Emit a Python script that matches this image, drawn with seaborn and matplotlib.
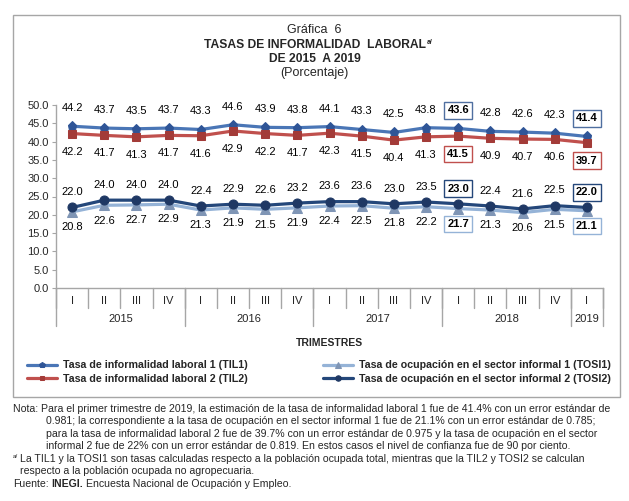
import numpy as np
import pandas as pd
import matplotlib
matplotlib.use('Agg')
import matplotlib.pyplot as plt
from matplotlib.patches import Rectangle
import seaborn as sns

# ─────────────────────────────────────────────
# DATA
# ─────────────────────────────────────────────
quarters = ['I', 'II', 'III', 'IV', 'I', 'II', 'III', 'IV', 'I', 'II', 'III', 'IV',
            'I', 'II', 'III', 'IV', 'I']
years = ['2015', '2016', '2017', '2018', '2019']
year_sizes = [4, 4, 4, 4, 1]

til1 = [44.2, 43.7, 43.5, 43.7, 43.3, 44.6, 43.9, 43.8, 44.1, 43.3, 42.5, 43.8,
        43.6, 42.8, 42.6, 42.3, 41.4]
til2 = [42.2, 41.7, 41.3, 41.7, 41.6, 42.9, 42.2, 41.7, 42.3, 41.5, 40.4, 41.3,
        41.5, 40.9, 40.7, 40.6, 39.7]
tosi1 = [20.8, 22.6, 22.7, 22.9, 21.3, 21.9, 21.5, 21.9, 22.4, 22.5, 21.8, 22.2,
         21.7, 21.3, 20.6, 21.5, 21.1]
tosi2 = [22.0, 24.0, 24.0, 24.0, 22.4, 22.9, 22.6, 23.2, 23.6, 23.6, 23.0, 23.5,
         23.0, 22.4, 21.6, 22.5, 22.0]

labels = ['Tasa de informalidad laboral 1 (TIL1)',
          'Tasa de informalidad laboral 2 (TIL2)',
          'Tasa de ocupación en el sector informal 1 (TOSI1)',
          'Tasa de ocupación en el sector informal 2 (TOSI2)']
boxed = [12, 16]   # 2018-I and 2019-I are highlighted

# ─────────────────────────────────────────────
# STYLE
# ─────────────────────────────────────────────
sns.set_style('white')
plt.rcParams['font.family'] = ['Liberation Sans', 'DejaVu Sans']
NARROW = ['Liberation Sans Narrow', 'Liberation Sans', 'DejaVu Sans']

# (values, line color, marker, marker color, label side, offset, box edge)
series = [
    (til1, '#4A76B6', 'p', '#2F5597', 1, 13, '#4F6FA0'),
    (til2, '#C0504D', 's', '#A33B38', -1, 13, '#C0504D'),
    (tosi1, '#95B3D7', '^', '#7F95B5', -1, 11, '#95B3D7'),
    (tosi2, '#24477A', 'o', '#1F3864', 1, 11, '#24477A'),
]

fig = plt.figure(figsize=(6.29, 5.01), dpi=100)
fig.patch.set_facecolor('white')
ax = fig.add_axes([56 / 629, 1 - 288 / 501, (603 - 56) / 629, 183 / 501])

x = np.arange(len(quarters))
for (vals, lc, mk, mc, side, off, ec), lab in zip(series, labels):
    df = pd.DataFrame({'x': x, 'y': vals})
    sns.lineplot(data=df, x='x', y='y', ax=ax, color=lc, lw=2.3, marker=mk,
                 markersize=6.5 if mk != 's' else 6, markerfacecolor=mc,
                 markeredgecolor=mc, label=lab, legend=False, zorder=3)
    for i, v in enumerate(vals):
        if i in boxed:
            ax.annotate(f'{v:.1f}', (i, v), xytext=(0, side * off),
                        textcoords='offset points', ha='center', va='center',
                        fontsize=8, fontweight='bold', color='black',
                        bbox=dict(boxstyle='square,pad=0.3', fc='white',
                                  ec=ec, lw=1))
        else:
            ax.annotate(f'{v:.1f}', (i, v), xytext=(0, side * off),
                        textcoords='offset points', ha='center', va='center',
                        fontsize=8, color='black')

ax.set_xlim(-0.5, len(quarters) - 0.5)
ax.set_ylim(0, 50)
ax.set_yticks(np.arange(0, 50.1, 5))
ax.set_yticklabels([f'{t:.1f}' for t in np.arange(0, 50.1, 5)], fontsize=8)
ax.set_xticks([])
ax.set_xlabel('')
ax.set_ylabel('')
ax.tick_params(axis='y', length=3, color='#A6A6A6', pad=2, left=True)
for s in ['top', 'right']:
    ax.spines[s].set_visible(False)
for s in ['left', 'bottom']:
    ax.spines[s].set_color('#A6A6A6')
    ax.spines[s].set_linewidth(1)

# two-level category axis
tr = ax.get_xaxis_transform()
for k in range(len(quarters) + 1):
    ax.plot([k - 0.5, k - 0.5], [0, -0.11], transform=tr, color='#A6A6A6',
            lw=1, clip_on=False)
for i, q in enumerate(quarters):
    ax.text(i, -0.072, q, transform=tr, ha='center', va='center', fontsize=8)
start = 0
for yr, n in zip(years, year_sizes):
    ax.plot([start - 0.5, start - 0.5], [0, -0.21], transform=tr,
            color='#A6A6A6', lw=1, clip_on=False)
    ax.text(start + (n - 1) / 2, -0.172, yr, transform=tr, ha='center',
            va='center', fontsize=8)
    start += n
ax.plot([start - 0.5, start - 0.5], [0, -0.21], transform=tr,
        color='#A6A6A6', lw=1, clip_on=False)
ax.text(0.5, -0.3, 'TRIMESTRES', transform=ax.transAxes, ha='center',
        va='center', fontsize=7.5, fontweight='bold', family=NARROW)

# titles
fig.text(0.5, 1 - 30 / 501, 'Gráfica  6', ha='center', va='center', fontsize=9)
t1 = fig.text(0.5, 1 - 45 / 501, 'TASAS DE INFORMALIDAD  LABORAL', ha='center',
              va='center', fontsize=8.7, fontweight='bold')
fig.texts.append(plt.Annotation('a/', xy=(1, 0.75), xycoords=t1,
                                xytext=(1, 0), textcoords='offset points',
                                ha='left', va='center', fontsize=5,
                                fontweight='bold', family=NARROW))
fig.texts[-1].set_figure(fig)
fig.text(0.5, 1 - 59 / 501, 'DE 2015  A 2019', ha='center', va='center',
         fontsize=8.7, fontweight='bold')
fig.text(0.5, 1 - 73 / 501, '(Porcentaje)', ha='center', va='center',
         fontsize=9, family=NARROW)

# legend
handles, labs = ax.get_legend_handles_labels()
fig.legend(handles, labs, ncol=2, loc='center',
           bbox_to_anchor=(319 / 629, 1 - 372 / 501), frameon=False,
           prop={'family': NARROW, 'weight': 'bold', 'size': 7.7},
           handlelength=2.8, columnspacing=7.1, labelspacing=0.3,
           handletextpad=0.55, markerscale=0.6)

# outer frame
fig.patches.append(Rectangle((13 / 629, 1 - 397 / 501), (620 - 13) / 629,
                             (397 - 15) / 501, transform=fig.transFigure,
                             fill=False, ec='#A6A6A6', lw=1))

# notes
nf = dict(fontsize=7.6, family=NARROW, va='center', ha='left')
fig.text(13 / 629, 1 - 409 / 501, 'Nota: Para el primer trimestre de 2019, la estimación '
         'de la tasa de informalidad laboral 1 fue de 41.4% con un error estándar de', **nf)
fig.text(46 / 629, 1 - 421 / 501, '0.981; la correspondiente a la tasa de ocupación en el '
         'sector informal 1 fue de 21.1% con un error estándar de 0.785;', **nf)
fig.text(46 / 629, 1 - 434 / 501, 'para la tasa de informalidad laboral 2 fue de 39.7% con '
         'un error estándar de 0.975 y la tasa de ocupación en el sector', **nf)
fig.text(46 / 629, 1 - 446 / 501, 'informal 2 fue de 22% con un error estándar de 0.819. '
         'En estos casos el nivel de confianza fue de 90 por ciento.', **nf)
fig.text(13 / 629, 1 - 456 / 501, 'a/', fontsize=4.5, family=NARROW, va='center',
         ha='left')
fig.text(20 / 629, 1 - 459 / 501, 'La TIL1 y la TOSI1 son tasas calculadas respecto a la '
         'población ocupada total, mientras que la TIL2 y TOSI2 se calculan', **nf)
fig.text(20 / 629, 1 - 471 / 501, 'respecto a la población ocupada no agropecuaria.', **nf)
f1 = fig.text(13 / 629, 1 - 484 / 501, 'Fuente:', **nf)
f2 = fig.text(0, 0, 'INEGI.', fontweight='bold', **nf)
f3 = fig.text(0, 0, 'Encuesta Nacional de Ocupación y Empleo.', **nf)

fig.canvas.draw()
r = fig.canvas.get_renderer()
inv = fig.transFigure.inverted()
b1 = f1.get_window_extent(r)
f2.set_position(inv.transform((b1.x1 + 3, 0))[0:1].tolist() + [1 - 484 / 501])
b2 = f2.get_window_extent(r)
f3.set_position(inv.transform((b2.x1 + 3, 0))[0:1].tolist() + [1 - 484 / 501])

fig.savefig('out.png', dpi=100, facecolor='white')
